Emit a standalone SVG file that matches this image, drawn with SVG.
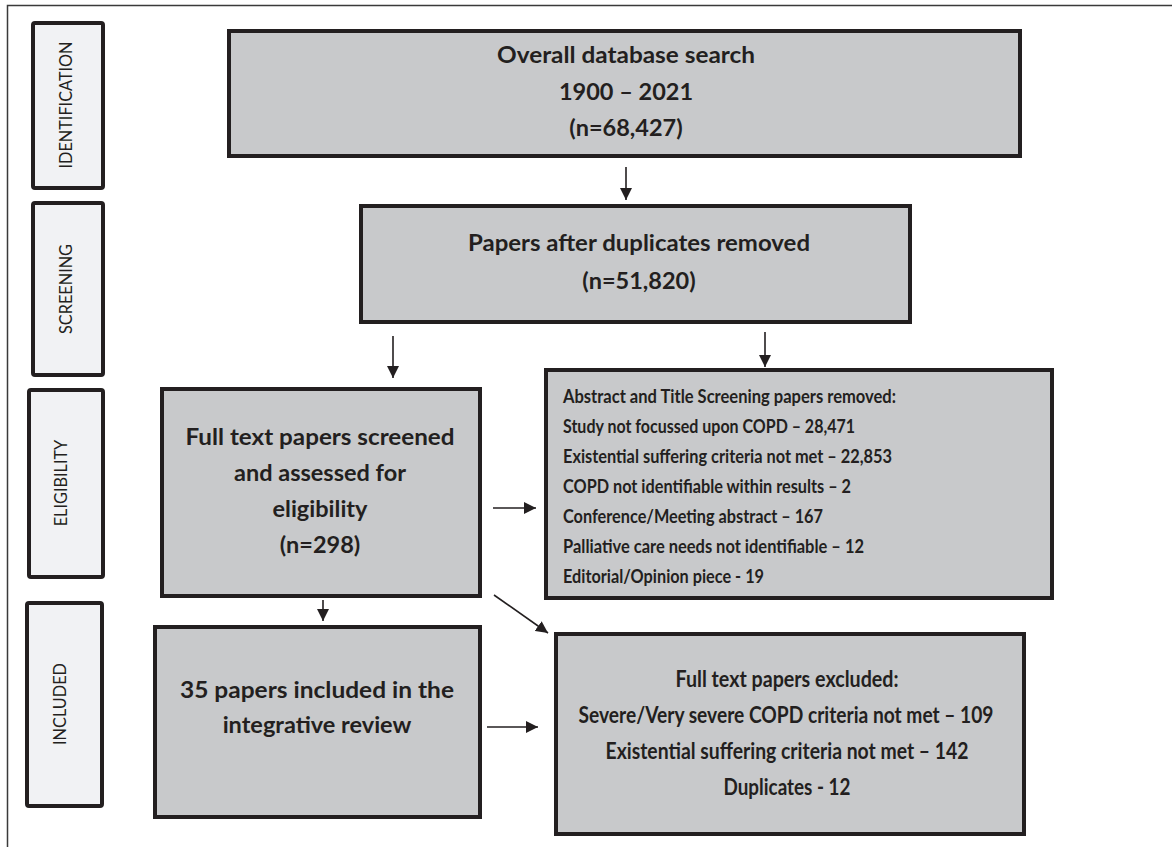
<svg xmlns="http://www.w3.org/2000/svg" width="1172" height="847" viewBox="0 0 1172 847">
<defs>
<style>
.frame{fill:none;stroke:#3a3a3a;stroke-width:1.5}
.phase{fill:#f1f2f4;stroke:#231f20;stroke-width:4}
.box{fill:#c8c9cb;stroke:#231f20;stroke-width:4}
.ph{font-family:Lato,"Liberation Sans",sans-serif;font-size:16.3px;fill:#231f20;text-anchor:middle}
.t{font-family:Lato,"Liberation Sans",sans-serif;font-weight:bold;font-size:23.5px;fill:#231f20;text-anchor:middle}
.e{font-family:Lato,"Liberation Sans",sans-serif;font-weight:bold;font-size:22px;fill:#231f20;text-anchor:middle}
.s{font-family:Lato,"Liberation Sans",sans-serif;font-weight:bold;font-size:18px;fill:#231f20}
.c{fill:none;stroke:#231f20;stroke-width:1.6}
</style>
<marker id="ah" markerUnits="userSpaceOnUse" markerWidth="14" markerHeight="12" refX="12" refY="6" orient="auto">
<path d="M0,0 L12,6 L0,12 Z" fill="#231f20"/>
</marker>
</defs>
<rect width="1172" height="847" fill="#ffffff"/>
<rect class="frame" x="7.5" y="5.5" width="1180" height="860"/>

<g id="phase-identification">
<rect class="phase" x="33" y="23" width="70" height="165" rx="2"/>
<text class="ph" transform="translate(72,105) rotate(-90)">IDENTIFICATION</text>
</g>
<g id="phase-screening">
<rect class="phase" x="33" y="203" width="70" height="172" rx="2"/>
<text class="ph" transform="translate(72,289) rotate(-90)">SCREENING</text>
</g>
<g id="phase-eligibility">
<rect class="phase" x="29" y="390" width="74" height="187" rx="2"/>
<text class="ph" transform="translate(67,483) rotate(-90)">ELIGIBILITY</text>
</g>
<g id="phase-included">
<rect class="phase" x="27" y="603" width="75" height="203" rx="2"/>
<text class="ph" transform="translate(66,704) rotate(-90)">INCLUDED</text>
</g>

<g id="node-overall">
<rect class="box" x="229" y="31" width="791" height="125"/>
<text class="t" x="626" y="63" textLength="258" lengthAdjust="spacingAndGlyphs">Overall database search</text>
<text class="t" x="626" y="100">1900 – 2021</text>
<text class="t" x="626" y="136">(n=68,427)</text>
</g>
<g id="node-duplicates">
<rect class="box" x="361" y="206" width="549" height="116"/>
<text class="t" x="639" y="251" textLength="342" lengthAdjust="spacingAndGlyphs">Papers after duplicates removed</text>
<text class="t" x="639" y="289">(n=51,820)</text>
</g>
<g id="node-fulltext">
<rect class="box" x="162" y="389" width="318" height="207"/>
<text class="t" x="320" y="445" textLength="269" lengthAdjust="spacingAndGlyphs">Full text papers screened</text>
<text class="t" x="320" y="481">and assessed for</text>
<text class="t" x="320" y="517">eligibility</text>
<text class="t" x="320" y="553">(n=298)</text>
</g>
<g id="node-abstract">
<rect class="box" x="546" y="370" width="506" height="228"/>
<text class="s" x="563" y="403" textLength="333" lengthAdjust="spacingAndGlyphs">Abstract and Title Screening papers removed:</text>
<text class="s" x="563" y="433" textLength="292" lengthAdjust="spacingAndGlyphs">Study not focussed upon COPD – 28,471</text>
<text class="s" x="563" y="463" textLength="329" lengthAdjust="spacingAndGlyphs">Existential suffering criteria not met – 22,853</text>
<text class="s" x="563" y="493" textLength="288" lengthAdjust="spacingAndGlyphs">COPD not identifiable within results – 2</text>
<text class="s" x="563" y="523" textLength="260" lengthAdjust="spacingAndGlyphs">Conference/Meeting abstract – 167</text>
<text class="s" x="563" y="553" textLength="301" lengthAdjust="spacingAndGlyphs">Palliative care needs not identifiable – 12</text>
<text class="s" x="563" y="583" textLength="201" lengthAdjust="spacingAndGlyphs">Editorial/Opinion piece - 19</text>
</g>
<g id="node-included">
<rect class="box" x="155" y="627" width="325" height="190"/>
<text class="t" x="317" y="698" textLength="274" lengthAdjust="spacingAndGlyphs">35 papers included in the</text>
<text class="t" x="317" y="733">integrative review</text>
</g>
<g id="node-excluded">
<rect class="box" x="556" y="634" width="468" height="200"/>
<text class="e" x="787" y="687" textLength="223" lengthAdjust="spacingAndGlyphs">Full text papers excluded:</text>
<text class="e" x="786" y="723" textLength="415" lengthAdjust="spacingAndGlyphs">Severe/Very severe COPD criteria not met – 109</text>
<text class="e" x="787" y="759" textLength="363" lengthAdjust="spacingAndGlyphs">Existential suffering criteria not met – 142</text>
<text class="e" x="787" y="795" textLength="127" lengthAdjust="spacingAndGlyphs">Duplicates - 12</text>
</g>

<g id="connectors">
<line class="c" x1="626" y1="167" x2="626" y2="200" marker-end="url(#ah)"/>
<line class="c" x1="393" y1="336" x2="393" y2="378" marker-end="url(#ah)"/>
<line class="c" x1="765" y1="332" x2="765" y2="367" marker-end="url(#ah)"/>
<line class="c" x1="493" y1="508" x2="536" y2="508" marker-end="url(#ah)"/>
<line class="c" x1="494" y1="595" x2="548" y2="633" marker-end="url(#ah)"/>
<line class="c" x1="323" y1="600" x2="323" y2="621" marker-end="url(#ah)"/>
<line class="c" x1="487" y1="727" x2="538" y2="727" marker-end="url(#ah)"/>
</g>
</svg>
